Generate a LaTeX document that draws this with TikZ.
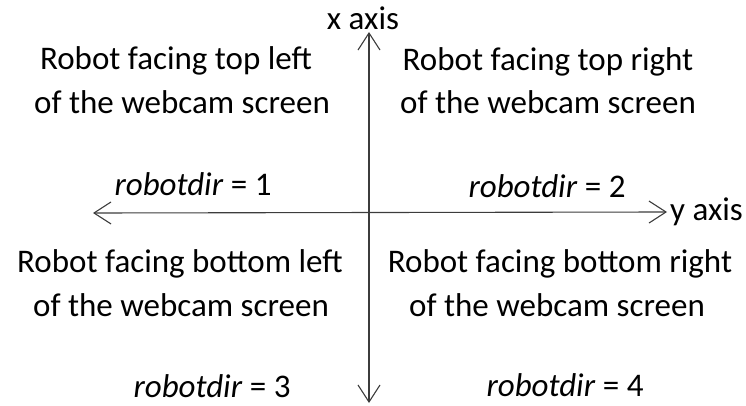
\documentclass[tikz,border=0pt]{standalone}
\usepackage{fontspec}
\setmainfont{Carlito}
\usepackage{tikz}
\usetikzlibrary{arrows.meta,positioning}
\definecolor{axisgray}{RGB}{60,60,60}

\begin{document}
\begin{tikzpicture}[x=1pt,y=-1pt,
      every node/.style={font=\fontsize{33}{40}\selectfont,inner sep=0pt,anchor=base},
      axis/.style={draw=axisgray,line width=1.1pt,
        {Straight Barb[length=17pt,width=22pt]}-{Straight Barb[length=17pt,width=22pt]}},
      dir/.style={}]
      \useasboundingbox (0,0) rectangle (746,406);
      % axis ends
      \coordinate (xtop) at (369,32);
      \coordinate (xbot) at (369,403);
      \coordinate (yleft) at (93,213);
      \coordinate (yright) at (667,212);
      \node (xlab) at (363,30) {x axis};
      \node[anchor=base west] (ylab) at (670,220) {y axis};
      % quadrant texts
      \node (tl1) at (176,70) {Robot facing top left};
      \node (tl2) at (182,114) {of the webcam screen};
      \node[dir] (d1) at (193,195) {\textit{robotdir} = 1};
      \node (tr1) at (548,71) {Robot facing top right};
      \node (tr2) at (548,114) {of the webcam screen};
      \node[dir] (d2) at (547,197) {\textit{robotdir} = 2};
      \node (bl1) at (180,272) {Robot facing bottom left};
      \node (bl2) at (181,316) {of the webcam screen};
      \node[dir] (d3) at (212,397) {\textit{robotdir} = 3};
      \node (br1) at (560,272) {Robot facing bottom right};
      \node (br2) at (557,316) {of the webcam screen};
      \node[dir] (d4) at (565,396) {\textit{robotdir} = 4};
      \draw[axis] (yleft) -- (yright);
      \draw[axis] (xbot) -- (xtop);
    \end{tikzpicture}
\end{document}
